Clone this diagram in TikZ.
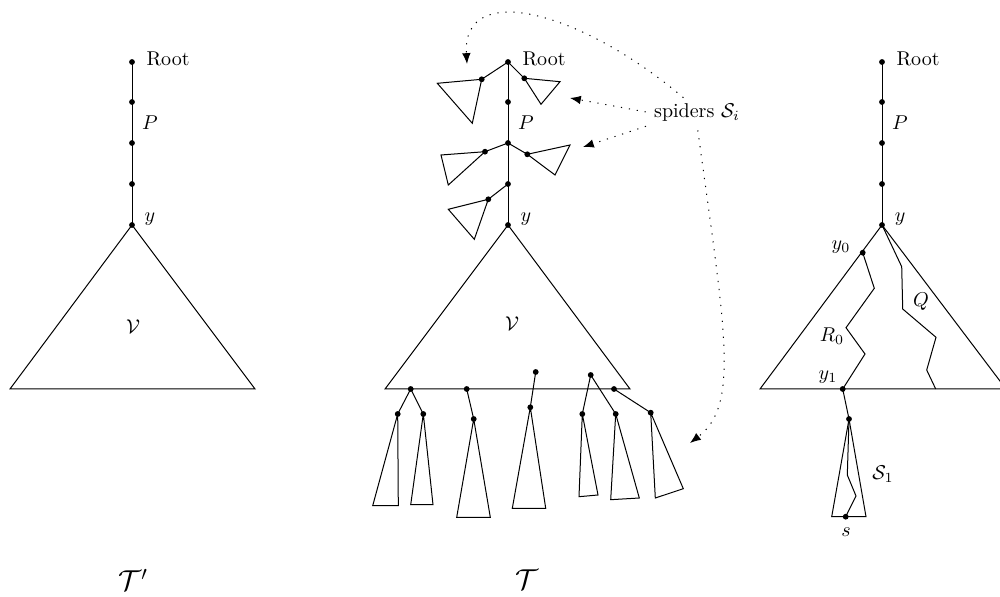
\documentclass[tikz,border=0pt]{standalone}
\usepackage{amsmath}
\usetikzlibrary{arrows.meta,positioning}

\begin{document}
\begin{tikzpicture}[x=0.5pt,y=-0.5pt,line width=0.5pt,
  lbl/.style={inner sep=1pt},
  big/.style={inner sep=1pt,font=\Large},
  arr/.style={dash pattern=on 0.6pt off 3.4pt,-{Latex[length=1.9mm,width=1.5mm]},shorten <=3pt}]
\useasboundingbox (0,0) rectangle (1000,597);
\clip (0,0) rectangle (1000,597);

% the path P from the root down to y, same in all three trees
\foreach \t/\x in {L/132,M/508,R/882}{
  \coordinate (\t r) at (\x,62);
  \coordinate (\t a) at (\x,102);
  \coordinate (\t b) at (\x,143);
  \coordinate (\t c) at (\x,184);
  \coordinate (\t y) at (\x,225);
  \draw (\t r) -- (\t y);
  \foreach \n in {r,a,b,c,y} \fill (\t\n) circle (1.45pt);
  \node[lbl,right=6pt of \t r,yshift=1.5pt] (\t root) {Root};
  \node[lbl] (\t P) at (\x+18,123) {$P$};
  \node[lbl] (\t Y) at (\x+18,219) {$y$};
}

% T'
\draw (Ly) -- (10,389) -- (255,389) -- cycle;
\node[lbl] (LV) at (133,327) {$\mathcal{V}$};
\node[big] (Tp) at (133,580) {$\mathcal{T}'$};

% T with its spiders
\draw (My) -- (385,389) -- (630,389) -- cycle;
\node[lbl] (MV) at (512,324) {$\mathcal{V}$};
\node[big] (Tm) at (527,580) {$\mathcal{T}$};
\draw (Mr) -- (481.7,79.3) coordinate (s1) -- (437.3,83.3) -- (472.3,123.3) -- (s1);
\draw (Mr) -- (524.3,78.3) coordinate (s2) -- (560,81.7) -- (541,104.3) -- (s2);
\draw (Mb) -- (485,151.7) coordinate (s3) -- (441,155) -- (448.3,185) -- (s3);
\draw (Mb) -- (527.3,154.3) coordinate (s4) -- (570,145) -- (555,175) -- (s4);
\draw (Mc) -- (488.3,199.3) coordinate (s5) -- (448.3,209.3) -- (474.3,239.3) -- (s5);
\draw (410.7,389) coordinate (b1) -- (397.7,414) coordinate (b2) -- (372.7,505.7) -- (398.3,505.7) -- (b2);
\draw (b1) -- (423.3,414) coordinate (b3) -- (410.7,504.7) -- (433,504.7) -- (b3);
\draw (466.7,389) coordinate (b4) -- (473.7,419) coordinate (b5) -- (456.7,517.3) -- (490.3,517.3) -- (b5);
\draw (535.7,372) coordinate (b6) -- (530.3,407.3) coordinate (b7) -- (512.3,508.3) -- (545.7,508.3) -- (b7);
\draw (590.7,375) coordinate (b8) -- (582.3,414) coordinate (b9) -- (579,496.7) -- (598,495) -- (b9);
\draw (b8) -- (615.7,414) coordinate (b10) -- (610.7,499.7) -- (639.3,498) -- (b10);
\draw (614,389) coordinate (b11) -- (650.7,412.7) coordinate (b12) -- (655.3,498) -- (683.3,488.7) -- (b12);
\foreach \n in {s1,s2,s3,s4,s5,b1,b2,b3,b4,b5,b6,b7,b8,b9,b10,b11,b12} \fill (\n) circle (1.45pt);

% pointers from the label
\node[lbl] (spiders) at (697,113) {spiders $\mathcal{S}_i$};
\coordinate (t1) at (467,64);
\coordinate (t2) at (570,98);
\coordinate (t3) at (583,147);
\coordinate (t4) at (690,443);
\draw[arr] ([xshift=-4.5pt]spiders.north) .. controls (580,10) and (462,-20) .. (t1);
\draw[arr] (spiders.west) -- (t2);
\draw[arr] (spiders.south west) -- (t3);
\draw[arr] (spiders.south) .. controls (725,330) and (740,405) .. (t4);

% the tree with the paths R_0, Q and spider S_1
\draw (Ry) -- (760,389) -- (1006,389) -- cycle;
\coordinate (y0) at (862.7,252.7);
\coordinate (y1) at (842.7,389);
\draw (y0) -- (874.3,288.3) -- (846,327.7) -- (865,354) -- (y1);
\draw (Ry) -- (901.7,266.7) -- (902.7,309) -- (936,337.3) -- (926.7,370) -- (935.7,389);
\draw (y1) -- (849,419) coordinate (sp) -- (831.7,516.7) -- (866,516.7) -- (sp);
\coordinate (sv) at (845.7,516.7);
\draw (sp) -- (847.3,475) -- (856,496) -- (sv);
\foreach \n in {y0,y1,sp,sv} \fill (\n) circle (1.45pt);
\node[lbl] (ly0) at (841,247) {$y_0$};
\node[lbl] (lR0) at (832,336) {$R_0$};
\node[lbl] (ly1) at (828,377) {$y_1$};
\node[lbl] (lQ) at (921,302) {$Q$};
\node[lbl] (lS1) at (883,474) {$\mathcal{S}_1$};
\node[lbl] (ls) at (846,532) {$s$};
\end{tikzpicture}
\end{document}
